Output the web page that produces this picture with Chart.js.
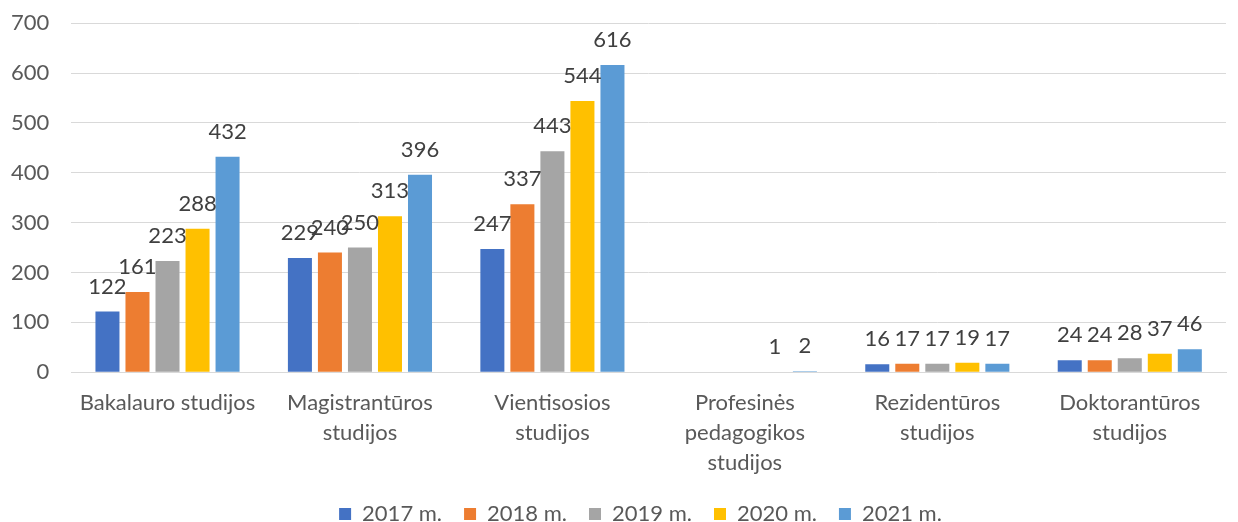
<!DOCTYPE html>
<html>
<head>
<meta charset="utf-8">
<script src="https://cdn.jsdelivr.net/npm/chart.js@4/dist/chart.umd.min.js"></script>
<style>
  html, body { margin: 0; padding: 0; background: #fff; }
  #wrap { width: 1238px; height: 522px; position: relative; }
</style>
</head>
<body>
<div id="wrap"><canvas id="chart"></canvas></div>
<script>
// Categories and series
const categories = [
    'Bakalauro studijos',
    ['Magistrantūros', 'studijos'],
    ['Vientisosios', 'studijos'],
    ['Profesinės', 'pedagogikos', 'studijos'],
    ['Rezidentūros', 'studijos'],
    ['Doktorantūros', 'studijos']
];
const seriesLabels = ['2017 m.', '2018 m.', '2019 m.', '2020 m.', '2021 m.'];
const seriesColors = ['#4472C4', '#ED7D31', '#A5A5A5', '#FFC000', '#5B9BD5'];

const values2017 = [122, 229, 247, null, 16, 24];
const values2018 = [161, 240, 337, null, 17, 24];
const values2019 = [223, 250, 443, null, 17, 28];
const values2020 = [288, 313, 544, 1, 19, 37];
const values2021 = [432, 396, 616, 2, 17, 46];
const allValues = [values2017, values2018, values2019, values2020, values2021];

const fontFamily = 'Lato, "Open Sans", sans-serif';
const textColor = '#595959';

// Draw value labels above each bar
const valueLabels = {
    id: 'valueLabels',
    afterDatasetsDraw(chart) {
        const ctx = chart.ctx;
        ctx.save();
        ctx.font = '22px ' + fontFamily;
        ctx.fillStyle = '#404040';
        ctx.textAlign = 'center';
        ctx.textBaseline = 'bottom';
        chart.data.datasets.forEach((ds, i) => {
            const meta = chart.getDatasetMeta(i);
            meta.data.forEach((bar, j) => {
                const v = ds.data[j];
                if (v === null || v === undefined) return;
                ctx.fillText(String(v), bar.x, bar.y - 14);
            });
        });
        ctx.restore();
    }
};

// Nudge the legend a bit to the right, like the original
const legendShift = {
    id: 'legendShift',
    afterLayout(chart) {
        if (!chart.legend) return;
        chart.legend.left += 27;
        chart.legend.right += 27;
    }
};

new Chart(document.getElementById('chart'), {
    type: 'bar',
    data: {
        labels: categories,
        datasets: allValues.map((vals, i) => ({
            label: seriesLabels[i],
            data: vals,
            backgroundColor: seriesColors[i],
            borderWidth: 0,
            categoryPercentage: 0.78,
            barPercentage: 0.8
        }))
    },
    options: {
        responsive: true,
        maintainAspectRatio: false,
        animation: false,
        layout: { padding: { left: 1, right: 12, top: 0, bottom: -13 } },
        plugins: {
            tooltip: { enabled: false },
            legend: {
                position: 'bottom',
                labels: {
                    color: textColor,
                    font: { family: fontFamily, size: 22 },
                    boxWidth: 12,
                    boxHeight: 12,
                    padding: 22
                }
            }
        },
        scales: {
            x: {
                grid: { display: false, drawTicks: false },
                border: { display: true, color: '#d9d9d9', width: 1 },
                ticks: {
                    color: textColor,
                    font: { family: fontFamily, size: 22, lineHeight: 1.36 },
                    padding: 16,
                    maxRotation: 0,
                    autoSkip: false
                },
                // let the labels hang a little into the legend's empty space
                afterFit: (scale) => { scale.height -= 13; }
            },
            y: {
                min: 0,
                max: 700,
                grid: { color: '#d9d9d9', lineWidth: 1, drawTicks: true, tickLength: 12, tickColor: 'rgba(0,0,0,0)' },
                border: { display: false },
                ticks: {
                    stepSize: 100,
                    color: textColor,
                    font: { family: fontFamily, size: 22 },
                    padding: 10
                }
            }
        }
    },
    plugins: [valueLabels, legendShift]
});
</script>
</body>
</html>
